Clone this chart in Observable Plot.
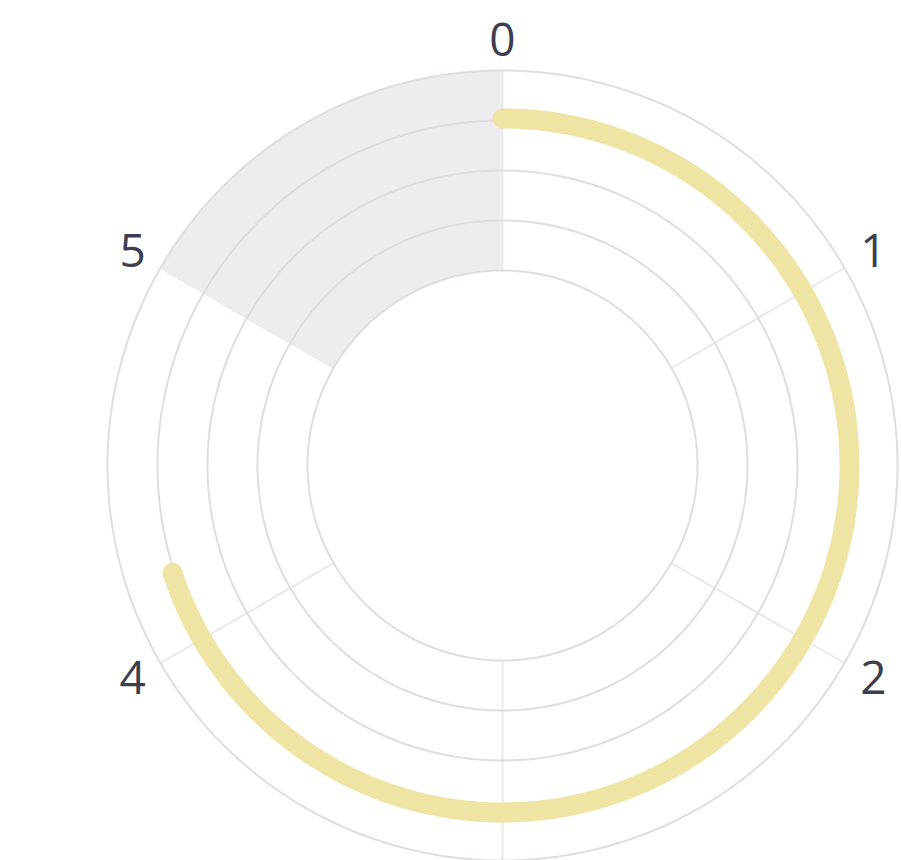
<!DOCTYPE html>
<html>
<head>
<meta charset="utf-8">
<script src="https://cdn.jsdelivr.net/npm/d3@7"></script>
<script src="https://cdn.jsdelivr.net/npm/@observablehq/plot@0.6"></script>
<style>
  html, body { margin: 0; padding: 0; background: #fff; overflow: hidden; }
  #chart { width: 901px; height: 860px; }
</style>
</head>
<body>
<div id="chart"></div>
<script>
// ---- data ----
const angleLabels = ["0", "1", "2", "3", "4", "5"];
const radiusTicks = [0, 1, 2, 3, 4];
const highlightSector = [5, 6];      // angle range of shaded split area
const seriesStart = [0];             // angle where bar starts
const seriesEnd = [4.2];             // angle where bar ends
const seriesRadius = [3.04];         // radial position of bar

// ---- layout helpers ----
const W = 901, H = 860;
const cx = 502, cy = 465;
const rInner = 195, rOuter = 395;
const rScale = d3.scaleLinear().domain([0, 4]).range([rInner, rOuter]);
const aScale = d3.scaleLinear().domain([0, angleLabels.length]).range([0, 2 * Math.PI]);
const polar = (a, v, extra = {}) => {
  const t = aScale(a), r = rScale(v);
  return {x: r * Math.sin(t), y: r * Math.cos(t), ...extra};
};
const arc = (a0, a1, v, n, extra = {}) =>
  d3.range(n + 1).map(i => polar(a0 + (a1 - a0) * i / n, v, extra));

// rings
const ringPts = radiusTicks.flatMap(v => arc(0, angleLabels.length, v, 360, {ring: v}));
// spokes
const spokes = angleLabels.map((_, i) => {
  const p0 = polar(i, radiusTicks[0]), p1 = polar(i, radiusTicks[radiusTicks.length - 1]);
  return {x1: p0.x, y1: p0.y, x2: p1.x, y2: p1.y};
});
// shaded sector polygon
const shade = [
  ...arc(highlightSector[0], highlightSector[1], radiusTicks[radiusTicks.length - 1], 60),
  ...arc(highlightSector[1], highlightSector[0], radiusTicks[0], 60)
];
// bar arc
const barPts = seriesStart.flatMap((s, k) => arc(s, seriesEnd[k], seriesRadius[k], 300, {k}));
// labels (the bottom label falls outside the canvas, as in the original)
const labels = angleLabels
  .map((t, i) => polar(i, 4.64, {text: t, anchor: i === 0 || i === 3 ? "middle" : i < 3 ? "start" : "end"}))
  .filter(d => cy - d.y + 20 < H);

const chart = Plot.plot({
  width: W,
  height: H,
  margin: 0,
  x: {type: "linear", domain: [-cx, W - cx], range: [0, W], axis: null},
  y: {type: "linear", domain: [cy - H, cy], range: [H, 0], axis: null},
  style: {background: "#fff", fontFamily: "'Open Sans', sans-serif"},
  marks: [
    Plot.link(spokes, {x1: "x1", y1: "y1", x2: "x2", y2: "y2", stroke: "#ebe8eb", strokeWidth: 2}),
    Plot.line(shade, {x: "x", y: "y", fill: "#eeecee", stroke: "none"}),
    Plot.line(ringPts, {x: "x", y: "y", z: "ring", stroke: "#e0dde0", strokeWidth: 2}),
    Plot.line(barPts, {x: "x", y: "y", z: "k", stroke: "#efe4a3", strokeWidth: 20, strokeLinecap: "round"}),
    Plot.text(labels.filter(d => d.anchor === "middle"), {x: "x", y: "y", text: "text", fontSize: 46, fill: "#3d3f50", dy: 3}),
    Plot.text(labels.filter(d => d.anchor === "start"), {x: "x", y: "y", text: "text", fontSize: 46, fill: "#3d3f50", textAnchor: "start", dx: -12}),
    Plot.text(labels.filter(d => d.anchor === "end"), {x: "x", y: "y", text: "text", fontSize: 46, fill: "#3d3f50", textAnchor: "end", dx: 13})
  ]
});
document.getElementById("chart").appendChild(chart);
</script>
</body>
</html>
